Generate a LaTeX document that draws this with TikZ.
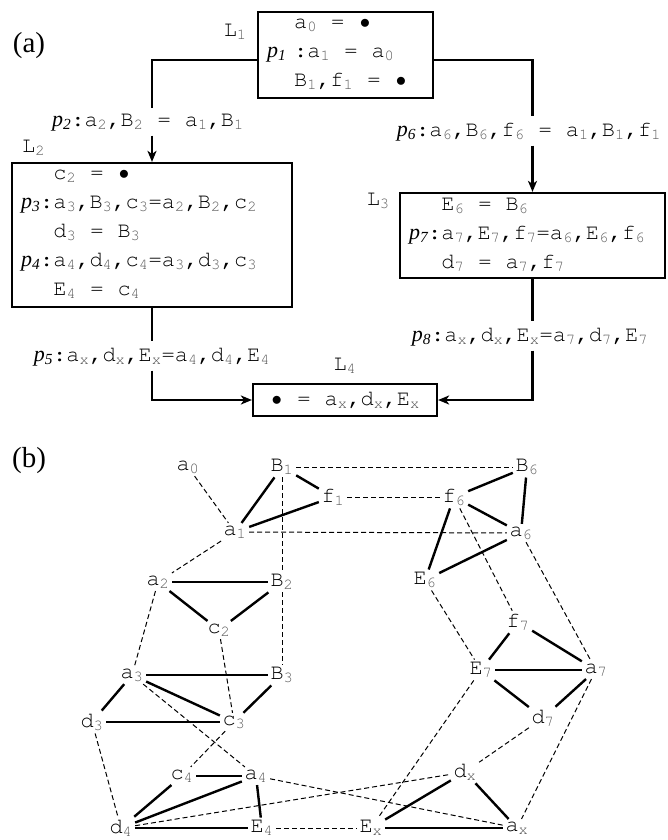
\documentclass[tikz,border=0pt]{standalone}
\usepackage[T1]{fontenc}
\usepackage{fontspec}
\setmainfont{Liberation Serif}
\usetikzlibrary{positioning,arrows.meta}

\newcommand{\cour}{\fontencoding{T1}\fontfamily{pcr}\fontsize{22}{29}\selectfont\spaceskip=14pt\relax}
\newcommand{\wide}{\spaceskip=14pt\xspaceskip=14pt\relax}
\newcommand{\idx}[1]{\textsubscript{\color{black!65}#1}}
\newcommand{\plab}[1]{{\fontencoding{TU}\rmfamily\itshape p\textsubscript{#1}}}
\newcommand{\pgap}[1]{\phantom{\plab{#1}:}}
\newcommand{\dotv}{\makebox[13.2pt]{$\bullet$}}

\begin{document}
\begin{tikzpicture}[
  x=1pt, y=-1pt,
  loc/.style={draw, line width=2.2pt, align=left, inner xsep=9pt, inner ysep=0pt, font=\cour},
  tag/.style={inner sep=1pt, font=\cour},
  cond/.style={inner sep=2pt, font=\cour},
  var/.style={inner sep=2.5pt, font=\cour},
  panel/.style={inner sep=0pt, font=\fontsize{29}{29}\selectfont},
  wire/.style={line width=2.2pt},
  flow/.style={wire, -{Stealth[length=11pt, width=9pt, inset=3pt]}},
  same/.style={line width=2.4pt},
  link/.style={line width=1pt, dash pattern=on 5pt off 3pt}
]
\useasboundingbox (0,0) rectangle (667,840);

% (a) locations
\node[panel] (pa) at (29,46) {(a)};
\node[loc, text width=157pt, minimum height=86pt] (L1) at (345.5,55)
  {\wide\phantom{\plab{1}\hspace{8pt}}a\idx{0} = \dotv\\
   \plab{1}\hspace{8pt}:a\idx{1} = a\idx{0}\\
   \phantom{\plab{1}\hspace{8pt}}B\idx{1},f\idx{1} = \dotv};
\node[loc, text width=262pt, minimum height=144pt] (L2) at (152,235)
  {\wide\pgap{3}c\idx{2} = \dotv\\
   \plab{3}:a\idx{3},B\idx{3},c\idx{3}=a\idx{2},B\idx{2},c\idx{2}\\
   \pgap{3}d\idx{3} = B\idx{3}\\
   \plab{4}:a\idx{4},d\idx{4},c\idx{4}=a\idx{3},d\idx{3},c\idx{3}\\
   \pgap{3}E\idx{4} = c\idx{4}};
\node[loc, text width=247pt, minimum height=85pt] (L3) at (532.5,235.5)
  {\wide\pgap{7}E\idx{6} = B\idx{6}\\
   \plab{7}:a\idx{7},E\idx{7},f\idx{7}=a\idx{6},E\idx{6},f\idx{6}\\
   \pgap{7}d\idx{7} = a\idx{7},f\idx{7}};
\node[loc, align=center, minimum width=184pt, minimum height=32pt] (L4) at (345,400)
  {\dotv{} = a\idx{x},d\idx{x},E\idx{x}};
\node[tag, below left=12pt and 9pt of L1.north west] (t1) {L\idx{1}};
\node[tag, above right=5pt and 10pt of L2.north west] (t2) {L\idx{2}};
\node[tag, below left=0pt and 8pt of L3.north west] (t3) {L\idx{3}};
\node[tag, above=8pt of L4.north] (t4) {L\idx{4}};
% conditions on the edges
\node[cond] (p2lab) at (148,123) {\plab{2}:a\idx{2},B\idx{2} = a\idx{1},B\idx{1}};
\node[cond] (p6lab) at (529,132) {\plab{6}:a\idx{6},B\idx{6},f\idx{6} = a\idx{1},B\idx{1},f\idx{1}};
\node[cond] (p5lab) at (152,357) {\plab{5}:a\idx{x},d\idx{x},E\idx{x}=a\idx{4},d\idx{4},E\idx{4}};
\node[cond] (p8lab) at (530,337) {\plab{8}:a\idx{x},d\idx{x},E\idx{x}=a\idx{7},d\idx{7},E\idx{7}};
\draw[wire, shorten >=4pt] ([yshift=-5pt]L1.west) -| (p2lab.north -| L2.north);
\draw[flow, shorten <=2pt] (p2lab.south -| L2.north) -- (L2.north);
\draw[wire, shorten >=4pt] ([yshift=-5pt]L1.east) -| (p6lab.north -| L3.north);
\draw[flow, shorten <=2pt] (p6lab.south -| L3.north) -- (L3.north);
\draw[wire, shorten >=4pt] (L2.south) -- (p5lab.north -| L2.south);
\draw[flow, shorten <=2pt] (p5lab.south -| L2.south) |- (L4.west);
\draw[wire, shorten >=4pt] (L3.south) -- (p8lab.north -| L3.south);
\draw[flow, shorten <=2pt] (p8lab.south -| L3.south) |- (L4.east);

% (b) variable graph
\node[panel] (pb) at (29,461) {(b)};
\node[var] (a0) at (188,467) {a\idx{0}};
\node[var] (B1) at (282,467) {B\idx{1}};
\node[var] (f1) at (333,497) {f\idx{1}};
\node[var] (a1) at (235,532) {a\idx{1}};
\node[var] (B6) at (527,467) {B\idx{6}};
\node[var] (f6) at (454,497) {f\idx{6}};
\node[var] (a6) at (521,533) {a\idx{6}};
\node[var] (E6) at (425,580) {E\idx{6}};
\node[var] (a2) at (158,582) {a\idx{2}};
\node[var] (B2) at (282,582) {B\idx{2}};
\node[var] (c2) at (219,630) {c\idx{2}};
\node[var] (f7) at (518,622) {f\idx{7}};
\node[var] (a3) at (132,675) {a\idx{3}};
\node[var] (B3) at (282,675) {B\idx{3}};
\node[var] (E7) at (481,670) {E\idx{7}};
\node[var] (a7) at (596,670) {a\idx{7}};
\node[var] (d3) at (92,722) {d\idx{3}};
\node[var] (c3) at (234,722) {c\idx{3}};
\node[var] (d7) at (543,718) {d\idx{7}};
\node[var] (c4) at (182,776) {c\idx{4}};
\node[var] (a4) at (256,776) {a\idx{4}};
\node[var] (dx) at (465,772) {d\idx{x}};
\node[var] (d4) at (121,828) {d\idx{4}};
\node[var] (E4) at (262,828) {E\idx{4}};
\node[var] (Ex) at (371,828) {E\idx{x}};
\node[var] (ax) at (517,828) {a\idx{x}};
% equalities inside a location
\foreach \u/\v in {B1/a1, B1/f1, a1/f1, a2/B2, a2/c2, B2/c2, a3/B3, a3/c3, a3/d3,
                   d3/c3, B3/c3, c4/a4, c4/d4, a4/d4, a4/E4, d4/E4,
                   f6/B6, f6/a6, B6/a6, f6/E6, E6/a6, f7/E7, f7/a7, E7/a7,
                   E7/d7, d7/a7, dx/Ex, dx/ax, Ex/ax}
  \draw[same] (\u) -- (\v);
% copies along the edges
\foreach \u/\v in {a0/a1, B1/B6, f1/f6, a1/a6, B1/B2, B2/B3, a1/a2, a2/a3, c2/c3,
                   a3/a4, c3/c4, d3/d4, a4/ax, d4/dx, E4/Ex, f6/f7, a6/a7,
                   E6/E7, E7/Ex, d7/dx, a7/ax}
  \draw[link] (\u) -- (\v);
\end{tikzpicture}
\end{document}
